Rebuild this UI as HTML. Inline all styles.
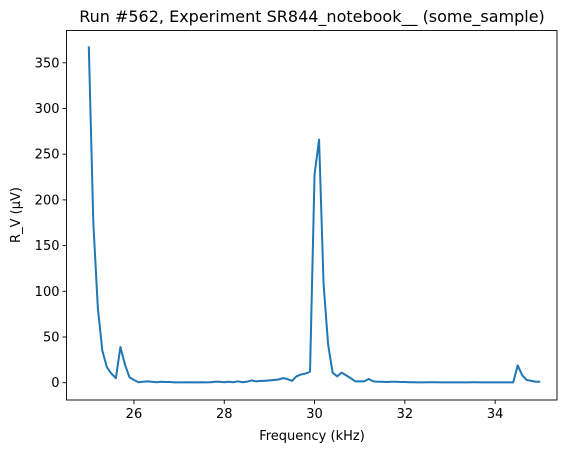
<!DOCTYPE html>
<html><head><meta charset="utf-8"><style>
body{margin:0;background:#fff;font-family:"Liberation Sans","DejaVu Sans",sans-serif;}
svg text{font-family:"DejaVu Sans","Liberation Sans",sans-serif;}
</style></head><body>
<svg id="chart" width="572" height="453" xmlns="http://www.w3.org/2000/svg">
<rect width="572" height="453" fill="#fff"/>
<text x="312" y="22" font-size="16" text-anchor="middle">Run #562, Experiment SR844_notebook__ (some_sample)</text>
<g id="plot"></g>
<text x="312" y="440" font-size="13" text-anchor="middle">Frequency (kHz)</text>
<text transform="translate(20,215) rotate(-90)" font-size="13" text-anchor="middle">R_V (μV)</text>
</svg>
<script>
const xTicks=[26,28,30,32,34];
const yTicks=[0,50,100,150,200,250,300,350];
const freqStart=25, freqStep=0.1;
const rv=[368,175,82,35,17,10,5,39,20,6,3,0.5,1,1.5,1,0.5,1,0.8,0.8,0.3,0.3,0.3,0.5,0.3,0.3,0.5,0.3,0.5,1,1,0.5,1,0.5,1.5,0.5,1,2.5,1.5,2,2,2.5,3,3.5,5,4,2,7,9,10,12,228,266,108,42,11,7,11,8,5,1.5,1.5,1.5,4,1.5,1,1,0.8,1,1,0.8,0.8,0.5,0.5,0.3,0.3,0.5,0.5,0.5,0.3,0.3,0.3,0.3,0.3,0.3,0.3,0.5,0.5,0.3,0.3,0.3,0.3,0.3,0.3,0.3,0.3,19,8,3,2,1,1];
const L=66.5,R=557,T=30.5,B=400;
const X=v=>88.8+(v-25)*45.15;
const Y=v=>382.7-v*0.914;
const ns="http://www.w3.org/2000/svg";
const g=document.getElementById('plot');
function mk(t,a){const e=document.createElementNS(ns,t);for(const k in a)e.setAttribute(k,a[k]);g.appendChild(e);return e;}
let pts=rv.map((v,i)=>X(freqStart+i*freqStep).toFixed(2)+','+Y(v).toFixed(2)).join(' ');
const line=mk('polyline',{points:pts,fill:'none',stroke:'#1f77b4','stroke-width':2,'stroke-linejoin':'round'});


const frame=mk('rect',{x:L,y:T,width:R-L,height:B-T,fill:'none',stroke:'#000','stroke-width':0.9});


xTicks.forEach(t=>{
 const x=X(t);
 const tk=mk('line',{x1:x,x2:x,y1:B,y2:B+4,stroke:'#000','stroke-width':0.9});
 
 
 const lb=mk('text',{x:x,y:B+18,'font-size':13,'text-anchor':'middle'});
 lb.textContent=t;
 
 
});
yTicks.forEach(t=>{
 const y=Y(t);
 const tk=mk('line',{x1:L-4,x2:L,y1:y,y2:y,stroke:'#000','stroke-width':0.9});
 
 
 const lb=mk('text',{x:L-7,y:y+4.5,'font-size':13,'text-anchor':'end'});
 lb.textContent=t;
 
 
});
</script>
</body></html>
